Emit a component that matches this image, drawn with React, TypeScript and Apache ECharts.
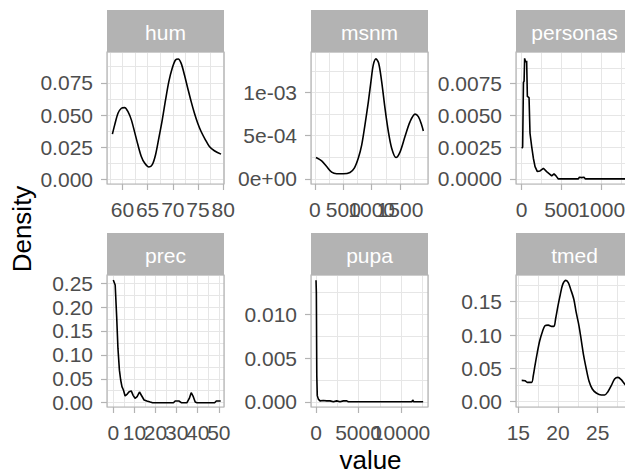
import React, { useEffect, useRef } from "react";
import * as echarts from "echarts";

const panelNames = ["hum", "msnm", "personas", "prec", "pupa", "tmed"];

const humDensity: [number, number][] = [
  [58.02, 0.0353], [58.48, 0.0424], [59.13, 0.0514], [59.8, 0.0553], [60.45, 0.0558],
  [61.11, 0.0527], [61.78, 0.0463], [62.43, 0.0368], [63.08, 0.027], [63.75, 0.018],
  [64.41, 0.0129], [65.26, 0.0098], [65.93, 0.0116], [66.58, 0.0193], [67.23, 0.0322],
  [67.91, 0.0463], [68.56, 0.0617], [69.21, 0.0759], [69.88, 0.0862], [70.53, 0.0926],
  [71.07, 0.0934], [71.66, 0.09], [72.31, 0.081], [72.96, 0.0708], [73.64, 0.0604],
  [74.29, 0.0514], [74.94, 0.0437], [75.61, 0.0373], [76.46, 0.0309], [77.25, 0.0257],
  [78.24, 0.0224], [79.56, 0.0198],
];

const msnmDensity: [number, number][] = [
  [18, 0.000247], [118, 0.000208], [206, 0.000143], [294, 0.000077], [382, 0.000058],
  [500, 0.000058], [618, 0.000073], [694, 0.000123], [765, 0.00024], [824, 0.00039],
  [882, 0.000625], [941, 0.00089], [988, 0.00113], [1029, 0.00132], [1076, 0.00139],
  [1124, 0.00134], [1176, 0.00113], [1235, 0.00082], [1294, 0.00055], [1353, 0.000355],
  [1429, 0.000247], [1500, 0.00031], [1588, 0.00049], [1676, 0.00066], [1765, 0.00075],
  [1824, 0.00072], [1882, 0.000625], [1912, 0.000555],
];

const personasDensity: [number, number][] = [
  [0, 0.00242], [12, 0.0025], [22, 0.0076], [30, 0.0077], [37, 0.0095], [50, 0.0092],
  [62, 0.0093], [71, 0.0065], [92, 0.0064], [104, 0.0036], [125, 0.00255], [146, 0.00163],
  [167, 0.00097], [196, 0.00058], [229, 0.00063], [271, 0.00084], [312, 0.00058],
  [346, 0.0004], [375, 0.00024], [404, 0.0004], [429, 0.00024], [458, 0], [708, 0],
  [721, 0.00013], [750, 0.0001], [779, 0.00013], [796, 0], [1330, 0],
];

const precDensity: [number, number][] = [
  [0, 0.2567], [0.9, 0.246], [1.6, 0.18], [2.2, 0.114], [2.9, 0.068], [3.5, 0.0475],
  [4.1, 0.0335], [4.8, 0.0265], [5.6, 0.014], [6.6, 0.018], [7.5, 0.023], [8.5, 0.0246],
  [9.4, 0.0154], [10.3, 0.0092], [11.3, 0.0126], [12.4, 0.0224], [13.5, 0.014],
  [14.6, 0.0056], [15.9, 0.0035], [17.5, 0.0014], [18.6, 0], [28.5, 0], [29.3, 0.0035],
  [31.2, 0.0035], [32.2, 0], [34.9, 0], [36, 0.009], [36.9, 0.0209], [37.9, 0.0126],
  [38.8, 0.0014], [39.6, 0], [48, 0], [48.8, 0.0035], [50.9, 0.0035],
];

const pupaDensity: [number, number][] = [
  [0, 0.0139], [40, 0.0125], [90, 0.003], [150, 0.0007], [275, 0.0003], [470, 0.0001],
  [860, 0.00015], [1250, 0.0001], [1650, 0.0001], [2040, 0], [2430, 0.0001], [2820, 0],
  [3220, 0.0001], [3610, 0.0001], [3800, 0], [11260, 0], [11370, 0.0002], [11490, 0],
  [12600, 0],
];

const tmedDensity: [number, number][] = [
  [15.43, 0.032], [15.85, 0.0315], [16.13, 0.029], [16.68, 0.029], [16.89, 0.039],
  [17.1, 0.054], [17.4, 0.074], [17.7, 0.0913], [18.07, 0.106], [18.36, 0.1138],
  [18.78, 0.1148], [19.2, 0.113], [19.5, 0.113], [19.7, 0.124], [20.0, 0.1437],
  [20.3, 0.161], [20.6, 0.176], [21.0, 0.182], [21.3, 0.1787], [21.6, 0.1687],
  [22.0, 0.1537], [22.3, 0.1338], [22.65, 0.1138], [22.95, 0.0913], [23.24, 0.0689],
  [23.57, 0.049], [23.9, 0.0314], [24.33, 0.019], [24.83, 0.013], [25.46, 0.01],
  [25.88, 0.01], [26.3, 0.015], [26.72, 0.024], [27.14, 0.034], [27.56, 0.0365],
  [27.98, 0.033], [28.4, 0.0265], [28.9, 0.02],
];

const panelData = [humDensity, msnmDensity, personasDensity, precDensity, pupaDensity, tmedDensity];
const smoothPanels = [true, true, false, false, false, true];

// axis limits (ggplot expanded ranges)
const xLimits: [number, number][] = [
  [56.95, 80.15], [-70, 1994], [-71, 1391], [-2.98, 52.44], [-590, 13170], [14.71, 29.46],
];
const yLimits: [number, number][] = [
  [-0.0033, 0.0988], [-0.00006, 0.00147], [-0.0004, 0.01], [-0.009, 0.267], [-0.0006, 0.0145], [-0.008, 0.19],
];

const xTickValues = [
  [60, 65, 70, 75, 80], [0, 500, 1000, 1500], [0, 500, 1000], [0, 10, 20, 30, 40, 50], [0, 5000, 10000], [15, 20, 25],
];
const yTickValues = [
  [0, 0.025, 0.05, 0.075], [0, 0.0005, 0.001], [0, 0.0025, 0.005, 0.0075],
  [0, 0.05, 0.1, 0.15, 0.2, 0.25], [0, 0.005, 0.01], [0, 0.05, 0.1, 0.15],
];
const yTickLabels = [
  ["0.000", "0.025", "0.050", "0.075"], ["0e+00", "5e-04", "1e-03"], ["0.0000", "0.0025", "0.0050", "0.0075"],
  ["0.00", "0.05", "0.10", "0.15", "0.20", "0.25"], ["0.000", "0.005", "0.010"], ["0.00", "0.05", "0.10", "0.15"],
];
const xGridStep = [2.5, 250, 250, 5, 2500, 2.5];
const yGridStep = [0.0125, 0.00025, 0.00125, 0.025, 0.0025, 0.025];

const FONT = '"Liberation Sans", Arial, sans-serif';
const COL_LEFT = [107, 311, 516];
const ROW_TOP = [52, 275];
const PW = 117;
const PH = 132;
const STRIP = 42;

export default function App() {
  const ref = useRef<HTMLDivElement>(null);
  useEffect(() => {
    if (!ref.current) return;
    const chart = echarts.init(ref.current, undefined, { renderer: "svg" });
    const grids: any[] = [];
    const xAxes: any[] = [];
    const yAxes: any[] = [];
    const series: any[] = [];
    const graphics: any[] = [];
    const labelStyle = { fontSize: 21, color: "#4d4d4d", fontFamily: FONT };
    panelNames.forEach((name, i) => {
      const left = COL_LEFT[i % 3];
      const top = ROW_TOP[Math.floor(i / 3)];
      const [xmin, xmax] = xLimits[i];
      const [ymin, ymax] = yLimits[i];
      grids.push({
        left, top, width: PW, height: PH, show: true, z: 3,
        borderColor: "#b3b3b3", borderWidth: 1.2, backgroundColor: "transparent",
        containLabel: false, outerBoundsMode: "none",
      });
      const evenX = xTickValues[i].filter((_, k) => k % 2 === 0);
      const oddX = xTickValues[i].filter((_, k) => k % 2 === 1);
      const xLabel = (vals: number[]) => ({
        show: true, customValues: vals, margin: 15, ...labelStyle,
        hideOverlap: false, showMinLabel: true, showMaxLabel: true,
        formatter: (v: number) => String(v),
      });
      // A: ticks + even labels (series axis)
      xAxes.push({
        type: "value", gridIndex: i, min: xmin, max: xmax, position: "bottom", z: 3,
        axisLine: { show: false, onZero: false }, splitLine: { show: false },
        axisTick: { show: true, length: 6, lineStyle: { color: "#b3b3b3", width: 1.2 }, customValues: xTickValues[i] },
        axisLabel: xLabel(evenX),
      });
      // B: grid lines
      xAxes.push({
        type: "value", gridIndex: i, min: xmin, max: xmax, position: "bottom", z: 0,
        minInterval: xGridStep[i], maxInterval: xGridStep[i],
        axisLine: { show: false, onZero: false }, axisTick: { show: false }, axisLabel: { show: false },
        splitLine: { show: true, lineStyle: { color: "#e6e6e6", width: 1 } },
      });
      // C: odd labels
      xAxes.push({
        type: "value", gridIndex: i, min: xmin, max: xmax, position: "bottom", z: 3,
        axisLine: { show: false, onZero: false }, splitLine: { show: false }, axisTick: { show: false },
        axisLabel: oddX.length ? xLabel(oddX) : { show: false },
      });
      yAxes.push({
        type: "value", gridIndex: i, min: ymin, max: ymax, position: "left", z: 3,
        axisLine: { show: false, onZero: false }, splitLine: { show: false },
        axisTick: { show: true, length: 6, lineStyle: { color: "#b3b3b3", width: 1.2 }, customValues: yTickValues[i] },
        axisLabel: {
          show: true, customValues: yTickValues[i], margin: 14, ...labelStyle,
          hideOverlap: false, showMinLabel: true, showMaxLabel: true,
          formatter: (v: number) => {
            const vals = yTickValues[i];
            let best = 0;
            for (let k = 0; k < vals.length; k++) if (Math.abs(vals[k] - v) < Math.abs(vals[best] - v)) best = k;
            return yTickLabels[i][best];
          },
        },
      });
      yAxes.push({
        type: "value", gridIndex: i, min: ymin, max: ymax, position: "left", z: 0,
        minInterval: yGridStep[i], maxInterval: yGridStep[i],
        axisLine: { show: false, onZero: false }, axisTick: { show: false }, axisLabel: { show: false },
        splitLine: { show: true, lineStyle: { color: "#e6e6e6", width: 1 } },
      });
      series.push({
        type: "line", xAxisIndex: 3 * i, yAxisIndex: 2 * i, data: panelData[i], z: 2,
        showSymbol: false, symbol: "none", smooth: smoothPanels[i] ? 0.3 : false,
        lineStyle: { color: "#000000", width: 1.6 }, silent: true,
      });
      graphics.push({
        type: "rect", shape: { x: left, y: top - STRIP, width: PW, height: STRIP },
        style: { fill: "#b3b3b3" }, silent: true, z: 4,
      });
      graphics.push({
        type: "text", x: left + PW / 2, y: top - STRIP / 2 + 1, silent: true, z: 5,
        style: {
          text: name, fill: "#ffffff", font: `21px ${FONT}`,
          align: "center", verticalAlign: "middle", textAlign: "center", textVerticalAlign: "middle",
        },
      });
    });
    graphics.push({
      type: "text", x: 370.5, y: 460, silent: true,
      style: { text: "value", fill: "#000000", font: `26px ${FONT}`, align: "center", verticalAlign: "middle", textAlign: "center", textVerticalAlign: "middle" },
    });
    graphics.push({
      type: "text", x: 22, y: 229, rotation: Math.PI / 2, silent: true,
      style: { text: "Density", fill: "#000000", font: `26px ${FONT}`, align: "center", verticalAlign: "middle", textAlign: "center", textVerticalAlign: "middle" },
    });
    chart.setOption({
      animation: false,
      backgroundColor: "#ffffff",
      grid: grids,
      xAxis: xAxes,
      yAxis: yAxes,
      series,
      graphic: graphics,
    });
    return () => chart.dispose();
  }, []);
  return <div ref={ref} style={{ position: "fixed", left: 0, top: 0, width: 625, height: 475 }} />;
}
